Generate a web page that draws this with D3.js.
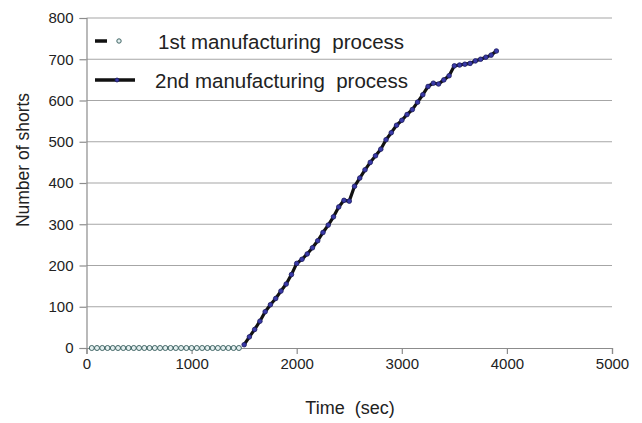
<!DOCTYPE html>
<html>
<head>
<meta charset="utf-8">
<script src="https://cdn.jsdelivr.net/npm/d3@7/dist/d3.min.js"></script>
<style>
  html, body { margin: 0; padding: 0; background: #fff; }
  svg { display: block; }
  text { font-family: "Liberation Sans", "DejaVu Sans", sans-serif; fill: #222; white-space: pre; }
</style>
</head>
<body>
<svg id="chart" width="642" height="423"></svg>
<script>
// Series 1: first manufacturing process (time in sec, number of shorts)
const s1Time = [50,100,150,200,250,300,350,400,450,500,550,600,650,700,750,800,850,900,950,1000,1050,1100,1150,1200,1250,1300,1350,1400,1450];
const s1Shorts = [0,0,0,0,0,0,0,0,0,0,0,0,0,0,0,0,0,0,0,0,0,0,0,0,0,0,0,0,0];

// Series 2: second manufacturing process
const s2Time = [1500,1550,1600,1650,1700,1750,1800,1850,1900,1950,2000,2050,2100,2150,2200,2250,2300,2350,2400,2450,2500,2550,2600,2650,2700,2750,2800,2850,2900,2950,3000,3050,3100,3150,3200,3250,3300,3350,3400,3450,3500,3550,3600,3650,3700,3750,3800,3850,3900];
const s2Shorts = [8,27,45,65,88,105,120,138,155,178,205,215,228,243,260,280,298,318,342,358,356,392,412,432,450,466,482,505,522,540,552,566,578,596,614,634,642,640,650,660,684,686,688,690,696,700,705,710,720];

const xTicks = [0,1000,2000,3000,4000,5000];
const yTicks = [0,100,200,300,400,500,600,700,800];
const seriesNames = ["1st manufacturing  process", "2nd manufacturing  process"];

const svg = d3.select("#chart");
const x = d3.scaleLinear().domain([0, 5000]).range([86.5, 612]);
const y = d3.scaleLinear().domain([0, 800]).range([348, 18]);

// horizontal gridlines
svg.append("g").selectAll("line").data(yTicks.filter(d => d > 0)).join("line")
  .attr("x1", x(0)).attr("x2", x(5000))
  .attr("y1", d => y(d)).attr("y2", d => y(d))
  .attr("stroke", "#a6a6a6").attr("stroke-width", 1.2);

// y axis
const yAxis = svg.append("g").attr("transform", `translate(${x(0)},0)`)
  .call(d3.axisLeft(y).tickValues(yTicks).tickSize(7).tickPadding(6).tickFormat(d3.format("d")));
yAxis.select(".domain").attr("stroke", "#8c8c8c").attr("stroke-width", 1.2);
yAxis.selectAll(".tick line").attr("stroke", "#8c8c8c").attr("stroke-width", 1.2);
yAxis.selectAll(".tick text").attr("font-size", 15).attr("fill", "#222");

// x axis
const xAxis = svg.append("g").attr("transform", `translate(0,${y(0)})`)
  .call(d3.axisBottom(x).tickValues(xTicks).tickSize(6).tickPadding(4).tickFormat(d3.format("d")));
xAxis.select(".domain").attr("stroke", "#8c8c8c").attr("stroke-width", 1.2);
xAxis.selectAll(".tick line").attr("stroke", "#8c8c8c").attr("stroke-width", 1.2);
xAxis.selectAll(".tick text").attr("font-size", 15).attr("fill", "#222");

// axis titles
svg.append("text").attr("x", 350).attr("y", 414).attr("text-anchor", "middle")
  .attr("font-size", 18).text("Time  (sec)");
svg.append("text").attr("transform", "translate(29,160) rotate(-90)")
  .attr("text-anchor", "middle").attr("font-size", 17.5).text("Number of shorts");

const line = d3.line().x(d => x(d[0])).y(d => y(d[1]));
const s1 = s1Time.map((t, i) => [t, s1Shorts[i]]);
const s2 = s2Time.map((t, i) => [t, s2Shorts[i]]);

// series 1: dashed line with open circles
svg.append("path").datum(s1).attr("d", line).attr("fill", "none")
  .attr("stroke", "#222").attr("stroke-width", 2).attr("stroke-dasharray", "6,3");
svg.append("g").selectAll("circle").data(s1).join("circle")
  .attr("cx", d => x(d[0])).attr("cy", d => y(d[1])).attr("r", 2.5)
  .attr("fill", "#e4f0f0").attr("stroke", "#3f6464").attr("stroke-width", 1);

// series 2: solid thick line with filled dots
svg.append("path").datum(s2).attr("d", line).attr("fill", "none")
  .attr("stroke", "#111").attr("stroke-width", 3.2).attr("stroke-linejoin", "round");
svg.append("g").selectAll("circle").data(s2).join("circle")
  .attr("cx", d => x(d[0])).attr("cy", d => y(d[1])).attr("r", 2.3)
  .attr("fill", "#3a3aa8").attr("stroke", "#1c1c60").attr("stroke-width", 0.8);

// legend
const lg = svg.append("g");
lg.append("line").attr("x1", 95).attr("x2", 107).attr("y1", 41).attr("y2", 41)
  .attr("stroke", "#111").attr("stroke-width", 3.5);
lg.append("circle").attr("cx", 119).attr("cy", 41).attr("r", 2.2)
  .attr("fill", "#e4f0f0").attr("stroke", "#3f6464").attr("stroke-width", 1);
lg.append("text").attr("x", 158).attr("y", 49).attr("font-size", 20.5).text(seriesNames[0]);

lg.append("line").attr("x1", 95).attr("x2", 135).attr("y1", 80).attr("y2", 80)
  .attr("stroke", "#111").attr("stroke-width", 3.5);
lg.append("circle").attr("cx", 117).attr("cy", 80).attr("r", 2)
  .attr("fill", "#3a3aa8").attr("stroke", "#1c1c60").attr("stroke-width", 0.8);
lg.append("text").attr("x", 155).attr("y", 88).attr("font-size", 20.5).text(seriesNames[1]);
</script>
</body>
</html>
